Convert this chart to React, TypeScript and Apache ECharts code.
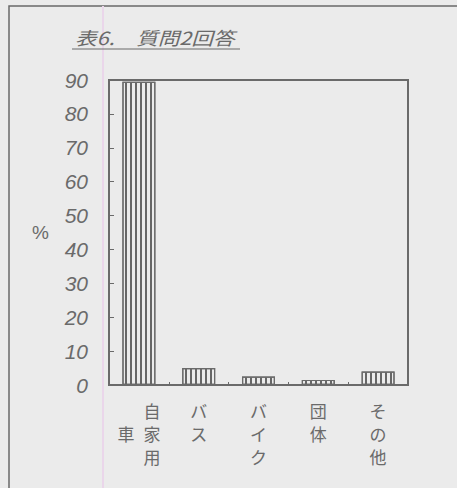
import React, { useEffect, useRef } from "react";
import * as echarts from "echarts";

// Survey question 2 responses (percent)
const categories = ["自家用車", "バス", "バイク", "団体", "その他"];
const percents = [89.5, 5, 2.5, 1.5, 4];
const yTicks = [0, 10, 20, 30, 40, 50, 60, 70, 80, 90];

// Stacked vertical label text for each category (rich-text lines)
const labelLines: Record<string, string> = {
  自家用車: "{e|　}{c|自}\n{c|車}{c|家}\n{e|　}{c|用}",
  バス: "{c|バ}\n{c|ス}",
  バイク: "{c|バ}\n{c|イ}\n{c|ク}",
  団体: "{c|団}\n{c|体}",
  その他: "{c|そ}\n{c|の}\n{c|他}",
};

const INK = "#6a6a6a";
const PAPER = "#ebebeb";

export default function App() {
  const ref = useRef<HTMLDivElement>(null);

  useEffect(() => {
    if (!ref.current) return;
    const chart = echarts.init(ref.current, undefined, { renderer: "svg" });
    chart.setOption({
      animation: false,
      backgroundColor: PAPER,
      grid: {
        left: 109,
        top: 80,
        right: 49,
        bottom: 103,
        show: true,
        borderColor: INK,
        borderWidth: 2,
        backgroundColor: "transparent",
      },
      xAxis: {
        type: "category",
        data: categories,
        axisLine: { lineStyle: { color: INK, width: 2 } },
        axisTick: { show: true, inside: true, length: 3, lineStyle: { color: INK } },
        axisLabel: {
          margin: 14,
          interval: 0,
          formatter: (v: string) => labelLines[v] ?? v,
          rich: {
            c: {
              fontFamily: "Noto Sans CJK JP",
              fontSize: 17,
              color: INK,
              width: 26,
              align: "center",
              lineHeight: 23,
            },
            e: {
              fontFamily: "Noto Sans CJK JP",
              fontSize: 17,
              width: 26,
              lineHeight: 23,
            },
          },
        },
      },
      yAxis: {
        type: "value",
        min: yTicks[0],
        max: yTicks[yTicks.length - 1],
        interval: 10,
        name: "%",
        nameLocation: "middle",
        nameRotate: 0,
        nameGap: 60,
        nameTextStyle: {
          fontFamily: "Liberation Sans",
          fontSize: 19,
          color: INK,
          padding: [8, 0, 0, 0],
        },
        splitLine: { show: false },
        axisLine: { show: true, lineStyle: { color: INK, width: 2 } },
        axisTick: { show: true, inside: true, length: 5, lineStyle: { color: INK } },
        axisLabel: {
          margin: 21,
          fontFamily: "Liberation Sans",
          fontStyle: "italic",
          fontSize: 21,
          color: INK,
        },
      },
      series: [
        {
          type: "bar",
          data: percents,
          barWidth: 33,
          itemStyle: {
            color: PAPER,
            borderColor: INK,
            borderWidth: 1.2,
            decal: {
              symbol: "rect",
              symbolSize: 1,
              color: "#666666",
              dashArrayX: [2, 2.2],
              dashArrayY: [10, 0],
              rotation: 0,
            },
          },
        },
      ],
      graphic: [
        // outer frame of the page panel
        {
          type: "rect",
          shape: { x: 9, y: 6, width: 470, height: 500 },
          style: { fill: "none", stroke: INK, lineWidth: 1.5 },
          silent: true,
        },
        // faint coloured rule line on the paper
        {
          type: "line",
          shape: { x1: 103, y1: 6, x2: 103, y2: 488 },
          style: { stroke: "#ead6ea", lineWidth: 2 },
          silent: true,
        },
        {
          type: "text",
          x: 75,
          y: 28,
          scaleX: 1.2,
          style: {
            text: "表6.　質問2回答",
            fontFamily: "Noto Sans CJK JP",
            fontStyle: "italic",
            fontSize: 18,
            fill: INK,
          },
        },
        {
          type: "line",
          shape: { x1: 72, y1: 49, x2: 240, y2: 49 },
          style: { stroke: INK, lineWidth: 1.2 },
          silent: true,
        },
      ],
    });
    return () => chart.dispose();
  }, []);

  return (
    <div
      ref={ref}
      style={{ position: "absolute", left: 0, top: 0, width: 457, height: 488 }}
    />
  );
}
